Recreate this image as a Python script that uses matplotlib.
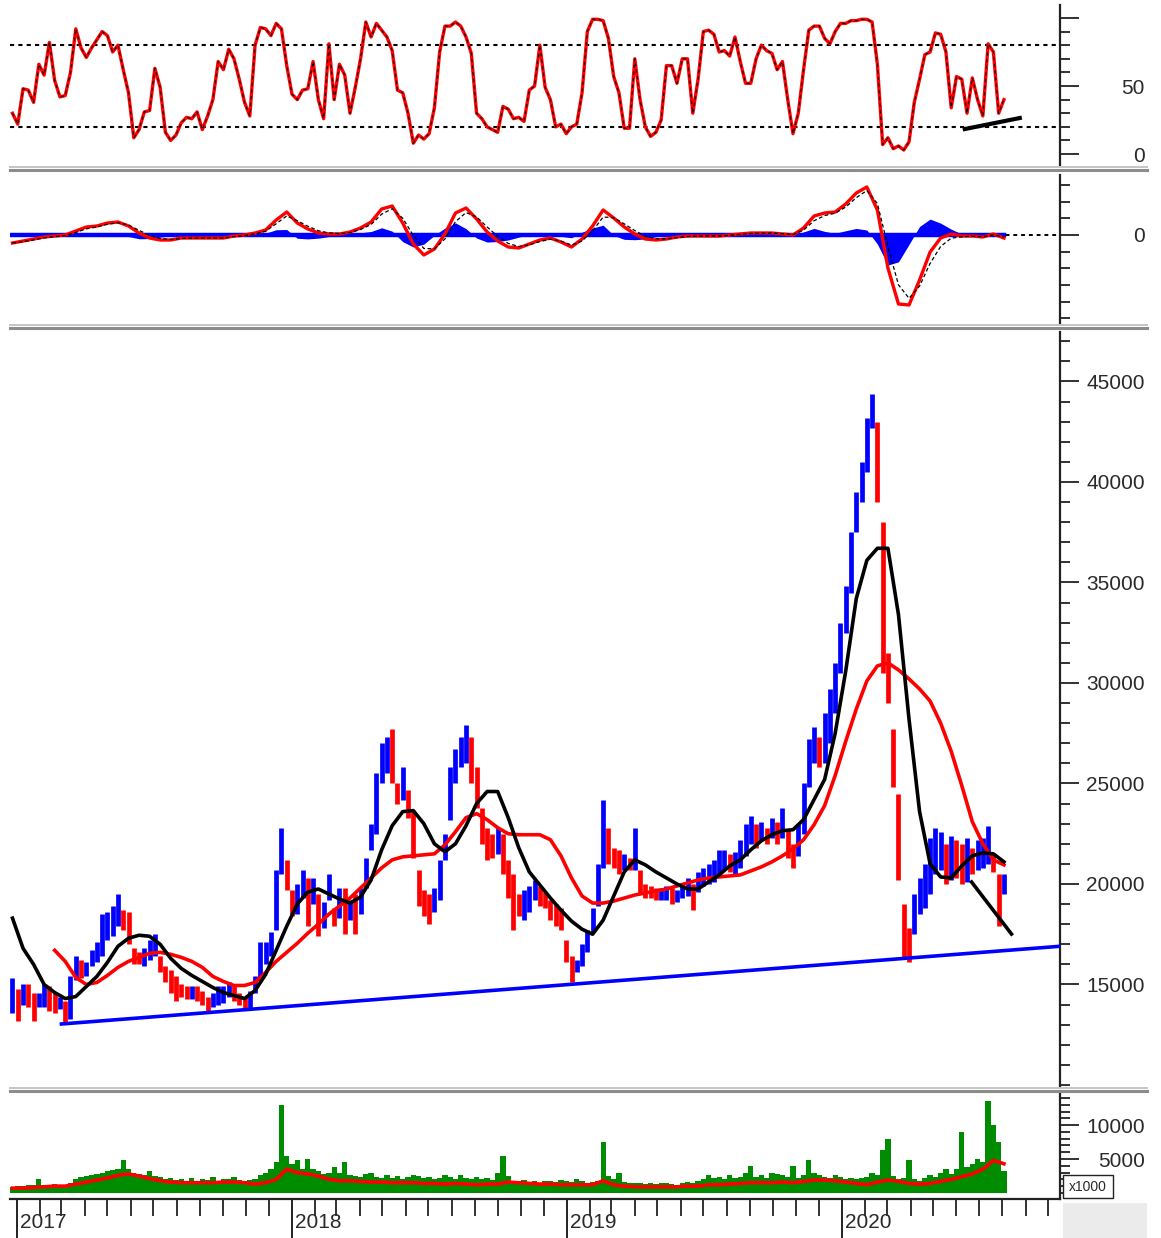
import numpy as np
import pandas as pd
import matplotlib
matplotlib.use('Agg')
import matplotlib.pyplot as plt
import matplotlib.dates as mdates
from matplotlib.lines import Line2D
from matplotlib.patches import Rectangle
from matplotlib.ticker import FixedLocator

plt.rcParams['font.family'] = ['Liberation Sans', 'DejaVu Sans']

# ---------------- data (weekly grid starting 2016-12-26) ----------------
week_start = '2016-12-26'
n_weeks = 189

price_hi = [15300, 14800, 15000, 15000, 14600, 14600, 15000, 14900, 14600, 14400,
            14200, 15400, 16400, 16200, 16100, 16700, 17100, 18500, 18600, 18900,
            19500, 18700, 18600, 16800, 16600, 16800, 17200, 17500, 16400, 15900,
            15700, 15400, 15000, 14900, 14900, 14900, 14700, 14400, 14600, 14900,
            14900, 15100, 14900, 14600, 14400, 14700, 15400, 17100, 17100, 17600,
            20700, 22800, 21200, 19700, 20000, 20700, 20300, 20300, 19500, 19100,
            20500, 18800, 19800, 19800, 19200, 19500, 19800, 21300, 23000, 25500,
            27000, 27300, 27700, 25000, 25800, 24700, 23700, 20700, 19700, 19500,
            19800, 21200, 22500, 25800, 26700, 27300, 27900, 27300, 25800, 23800,
            22800, 22500, 22800, 22500, 21200, 20500, 19500, 19700, 19900, 20200,
            19900, 19600, 19200, 19000, 18800, 17200, 16400, 16200, 17000, 17700,
            18800, 21000, 24200, 22800, 21800, 21700, 21500, 21300, 22800, 20700,
            20000, 19900, 19800, 19800, 19900, 19800, 19700, 20000, 20300, 20000,
            20600, 20800, 21000, 21200, 21700, 21700, 21500, 21600, 22200, 23000,
            23400, 23000, 23100, 22800, 23300, 23100, 23800, 22700, 22000, 23000,
            25000, 27200, 27800, 27300, 28500, 29700, 31000, 33000, 34800, 37500,
            39500, 41000, 43200, 44400, 43000, 38000, 31500, 27700, 24500, 19000,
            17800, 19500, 20300, 21000, 22300, 22800, 22600, 22000, 22400, 22200,
            22000, 22300, 21800, 22200, 22300, 22900, 21500, 20500, 20500]

price_lo = [13600, 13200, 14000, 13900, 13200, 13900, 13900, 13700, 13600, 13800,
            13100, 13300, 15200, 15300, 15400, 15900, 16100, 16400, 17200, 17400,
            17900, 17700, 17000, 16000, 16000, 15900, 16200, 16400, 15600, 15100,
            14600, 14200, 14400, 14300, 14300, 14200, 14000, 13700, 13900, 14000,
            14100, 14400, 14200, 14000, 13800, 13800, 14600, 15200, 16000, 16400,
            17700, 20500, 19700, 18400, 18500, 19300, 17900, 19000, 17400, 17800,
            19200, 17900, 18300, 17500, 18200, 17500, 18500, 19800, 21700, 22500,
            25000, 25500, 25000, 24000, 24200, 23300, 21300, 18900, 18400, 18000,
            18600, 19200, 21200, 23200, 25000, 25800, 26000, 25000, 23800, 22000,
            21200, 21300, 21500, 20500, 19300, 17700, 18400, 18200, 18600, 19200,
            18900, 18800, 18200, 17900, 17700, 16100, 15100, 15600, 15900, 16600,
            17600, 18900, 20800, 21000, 20800, 20500, 20700, 20700, 20700, 19500,
            19300, 19300, 19200, 19200, 19200, 19000, 19100, 19300, 19400, 18700,
            19600, 19900, 20000, 20100, 20500, 20700, 20600, 20500, 20800, 21400,
            22000, 21800, 22200, 22000, 22300, 22000, 22300, 21300, 20800, 21400,
            22500, 24800, 26000, 25800, 26000, 27000, 28500, 30500, 32500, 34500,
            37500, 39000, 40500, 42700, 39000, 30500, 29000, 24800, 20200, 16300,
            16100, 17500, 18500, 18800, 19500, 20500, 20700, 20000, 20200, 20300,
            20000, 20100, 20500, 20700, 20800, 21000, 20600, 17900, 19500]

rsi = [30, 22, 48, 47, 38, 66, 58, 82, 54, 42,
       43, 60, 92, 78, 71, 78, 84, 90, 87, 75,
       80, 62, 45, 12, 18, 31, 32, 63, 49, 16,
       10, 14, 23, 27, 26, 31, 18, 28, 40, 68,
       62, 77, 70, 55, 38, 28, 80, 93, 92, 87,
       96, 92, 65, 44, 40, 47, 48, 68, 40, 26,
       81, 40, 66, 58, 30, 49, 70, 97, 86, 96,
       91, 86, 76, 47, 45, 30, 8, 14, 11, 15,
       34, 75, 94, 94, 97, 94, 86, 74, 30, 26,
       20, 18, 16, 35, 33, 26, 27, 24, 47, 50,
       80, 49, 40, 20, 22, 15, 20, 22, 45, 90,
       99, 99, 98, 85, 57, 45, 19, 19, 70, 40,
       20, 13, 16, 25, 65, 65, 52, 70, 70, 30,
       55, 90, 91, 88, 75, 76, 72, 86, 68, 52,
       52, 70, 80, 76, 74, 62, 68, 40, 15, 30,
       62, 91, 94, 94, 85, 81, 90, 96, 96, 98,
       98, 99, 99, 97, 66, 7, 12, 4, 6, 3,
       9, 38, 55, 73, 75, 89, 88, 75, 34, 57,
       55, 30, 56, 40, 28, 81, 75, 30, 40]

volume = [900, 1000, 1000, 1100, 1200, 2000, 1100, 1200, 1300, 1200,
          1200, 1500, 2000, 2300, 2500, 2600, 2800, 3000, 3200, 3400,
          3600, 4800, 3500, 3000, 2800, 2600, 3200, 2500, 2300, 2000,
          2200, 1900, 2000, 1800, 2200, 1800, 2000, 1900, 2300, 1800,
          2000, 2100, 2300, 1900, 1800, 1900, 2000, 2600, 3000, 3500,
          4500, 13000, 5500, 4200, 4800, 3500, 5000, 3500, 3200, 2800,
          3000, 3800, 3000, 4500, 2600, 2500, 2400, 2800, 3000, 2400,
          2200, 2600, 2200, 2500, 2000, 2300, 2700, 2500, 2200, 2400,
          2000, 2200, 2700, 2300, 2000, 2600, 2200, 2000, 2400, 2000,
          2200, 1900, 3000, 5500, 2500, 1800, 1700, 1900, 1600, 1800,
          1500, 1800, 1700, 1600, 1900, 1700, 1600, 2000, 1800, 1500,
          1600, 1800, 7500, 2500, 2000, 3000, 1600, 1500, 1400, 1500,
          1300, 1400, 1300, 1500, 1400, 1300, 1200, 1400, 1600, 1500,
          1700, 2000, 2600, 2200, 2400, 2000, 2600, 2200, 2400, 3000,
          4000, 2400, 2600, 2200, 3000, 2800, 2600, 2400, 4000, 2200,
          2600, 4800, 3000, 2600, 2400, 2200, 2600, 2400, 2000, 2200,
          2000, 2200, 2400, 3000, 2600, 6400, 8000, 2500, 2000, 2200,
          4800, 2000, 1800, 2200, 2600, 2400, 3000, 3500, 2800, 3500,
          9000, 3800, 4200, 5000, 4500, 13500, 10000, 7500, 3300]

# ---------------- biweekly series (every second week) ----------------
ma_fast = [18300, 16800, 16000, 15000, 14600, 14300, 14400, 14900, 15400, 16100,
           16900, 17300, 17450, 17400, 17000, 16300, 15800, 15450, 15150, 14850,
           14600, 14450, 14300, 14700, 15500, 16700, 17900, 19000, 19600, 19750,
           19500, 19250, 19050, 19350, 20200, 21700, 22900, 23600, 23650, 23000,
           22000, 21600, 22000, 22900, 24000, 24600, 24600, 23300, 21800, 20600,
           19950, 19300, 18700, 18150, 17750, 17500, 18200, 19400, 20600, 21200,
           20950, 20600, 20300, 20000, 19750, 19750, 20100, 20450, 20900, 21200,
           21700, 22150, 22450, 22650, 22700, 23200, 24200, 25200, 27500, 30600,
           34200, 36100, 36700, 36700, 33400, 28200, 23600, 21000, 20350, 20300,
           20900, 21400, 21550, 21500, 21100]

ma_slow = [np.nan, np.nan, np.nan, np.nan, 16700, 16150, 15350, 15000, 15100, 15450,
           15850, 16150, 16350, 16550, 16600, 16500, 16350, 16150, 15850, 15400,
           15150, 14950, 14950, 15100, 15600, 16150, 16600, 17050, 17550, 18000,
           18500, 18900, 19300, 19800, 20300, 20800, 21200, 21350, 21400, 21450,
           21500, 21950, 22600, 23300, 23500, 23200, 22800, 22500, 22450, 22450,
           22450, 22200, 21400, 20300, 19400, 19050, 19050, 19150, 19300, 19450,
           19550, 19650, 19750, 19900, 20050, 20200, 20300, 20350, 20400, 20450,
           20650, 20850, 21100, 21400, 21750, 22200, 22950, 23900, 25400, 27100,
           28700, 30100, 30850, 31000, 30650, 30200, 29700, 29100, 28000, 26600,
           24900, 23100, 22000, 21200, 20950]

macd = [-480, -360, -240, -120, -60, 0, 240, 480, 540, 720,
        780, 540, 120, -180, -300, -300, -180, -180, -180, -180,
        -180, -60, 0, 120, 300, 900, 1380, 720, 360, 120,
        60, 60, 180, 420, 780, 1560, 1740, 720, -540, -1200,
        -840, 60, 1320, 1620, 960, 180, -360, -720, -780, -540,
        -300, -180, -420, -720, -240, 540, 1500, 1020, 480, 60,
        -240, -300, -240, -120, -60, -60, -60, -60, 0, 60,
        120, 120, 120, 60, 0, 420, 1140, 1320, 1380, 1860,
        2520, 2880, 1500, -1980, -4140, -4200, -2700, -1020, -180, 60,
        -60, -60, -120, 60, -180]

vol_ma = [700, 700, 800, 900, 1000, 1000, 1300, 1600, 1900, 2200,
          2600, 2800, 2500, 2100, 1800, 1600, 1500, 1500, 1500, 1500,
          1600, 1600, 1500, 1300, 1500, 2000, 3500, 3000, 2800, 2500,
          2000, 1800, 1800, 1700, 1600, 1600, 1500, 1500, 1500, 1400,
          1400, 1300, 1400, 1300, 1200, 1300, 1300, 1600, 1500, 1400,
          1300, 1300, 1200, 1200, 1200, 1200, 1800, 1200, 1000, 900,
          900, 900, 900, 900, 1000, 1000, 1200, 1200, 1300, 1400,
          1500, 1500, 1500, 1600, 1500, 1700, 1900, 1900, 1800, 1600,
          1400, 1200, 1600, 1900, 1700, 1400, 1300, 1400, 1700, 2000,
          2400, 2800, 3500, 4800, 4300]

# trend lines (two end points each)
support_dates = ['2017-03-01', '2020-10-16']
support_prices = [13035, 16900]
down_dates = ['2020-06-21', '2020-08-13']
down_prices = [20100, 17510]
rsi_tl_dates = ['2020-06-12', '2020-08-24']
rsi_tl_vals = [18.4, 26.5]

year_labels = ['2017', '2018', '2019', '2020']

# ---------------- figure ----------------
W, H = 1161, 1238
fig = plt.figure(figsize=(W / 100, H / 100), dpi=100)
fig.patch.set_facecolor('white')

dates = pd.date_range(week_start, periods=n_weeks, freq='7D')
xd = mdates.date2num(dates)
xd2 = xd[::2]
t2017 = mdates.date2num(pd.Timestamp('2017-01-01'))
t2020 = mdates.date2num(pd.Timestamp('2020-01-01'))
XL = (t2017 - 9.3, t2020 + 289.4)


def ax_at(x0, y0, x1, y1):
    ax = fig.add_axes([x0 / W, 1 - y1 / H, (x1 - x0) / W, (y1 - y0) / H])
    ax.set_xlim(*XL)
    ax.set_facecolor('none')
    for s in ['top', 'left', 'bottom']:
        ax.spines[s].set_visible(False)
    ax.spines['right'].set_linewidth(1.6)
    ax.spines['right'].set_color('#222222')
    ax.set_xticks([])
    return ax


def right_axis(ax, major, labels, minor):
    ax.yaxis.tick_right()
    ax.yaxis.set_major_locator(FixedLocator(major))
    ax.yaxis.set_minor_locator(FixedLocator(minor))
    ax.set_yticklabels(labels)
    ax.tick_params(axis='y', which='major', length=14, width=1.3, pad=47,
                   labelsize=15, labelcolor='#2a2a2a', color='#222222')
    ax.tick_params(axis='y', which='minor', length=7, width=1.3, color='#222222')
    for lab in ax.get_yticklabels():
        lab.set_horizontalalignment('right')


dotted = (0, (2.0, 2.0))

# RSI panel
ax_r = ax_at(10, 5, 1060, 165)
ax_r.set_ylim(-8, 109.5)
ax_r.axhline(80, color='black', ls=dotted, lw=1.5)
ax_r.axhline(20, color='black', ls=dotted, lw=1.5)
ax_r.plot(xd, rsi, color='#ff0000', lw=2.4, zorder=3)
ax_r.plot(xd, rsi, color='black', lw=0.8, ls=(0, (3, 3)), zorder=4)
ax_r.plot(mdates.date2num(pd.to_datetime(rsi_tl_dates)), rsi_tl_vals, color='black', lw=3, zorder=5)
right_axis(ax_r, [0, 50, 100], ['0', '50', ''], list(range(0, 101, 10)))

# MACD panel
ax_m = ax_at(10, 175, 1060, 323)
ax_m.set_ylim(-5280, 3600)
macd_s = pd.Series(macd, dtype=float)
signal = macd_s.ewm(span=2, adjust=False).mean()
hist = (macd_s - signal) * 1.4
ax_m.axhline(0, color='black', ls=dotted, lw=1.4, zorder=1)
ax_m.fill_between(xd2, 0, hist, color='#0000ff', lw=0, zorder=2)
ax_m.plot([xd[0], xd[-1]], [0, 0], color='#0000ff', lw=3.2, zorder=2)
ax_m.plot(xd2, macd, color='#ff0000', lw=2.4, zorder=3)
ax_m.plot(xd2, signal, color='black', lw=0.9, ls=(0, (3, 2)), zorder=4)
right_axis(ax_m, [0], ['0'], list(range(-5000, 3001, 1000)))

# Price panel
ax_p = ax_at(10, 332, 1060, 1087)
ax_p.set_ylim(9900, 47460)
hi = np.array(price_hi, dtype=float)
lo = np.array(price_lo, dtype=float)
mid = (hi + lo) / 2
up = np.concatenate([[True], mid[1:] >= mid[:-1]])
cols = np.where(up, '#0000ff', '#ff0000')
ax_p.vlines(xd, lo, hi, colors=cols, lw=3.4, zorder=2)
ax_p.plot(xd2, ma_slow, color='#ff0000', lw=2.6, zorder=3)
ax_p.plot(xd2, ma_fast, color='black', lw=2.6, zorder=4)
ax_p.plot(mdates.date2num(pd.to_datetime(support_dates)), support_prices, color='#0000ff', lw=2.6, zorder=5)
ax_p.plot(mdates.date2num(pd.to_datetime(down_dates)), down_prices, color='black', lw=2.6, zorder=5)
right_axis(ax_p, list(range(15000, 45001, 5000)),
           [str(v) for v in range(15000, 45001, 5000)],
           list(range(10000, 47001, 1000)))

# Volume panel
ax_v = ax_at(10, 1094, 1060, 1199)
ax_v.set_ylim(-900, 14600)
ax_v.bar(xd, volume, width=7.0, color='#008c00', lw=0, zorder=2)
ax_v.plot(xd2, vol_ma, color='#ff0000', lw=2.6, zorder=3)
right_axis(ax_v, [5000, 10000], ['5000', '10000'], list(range(0, 14001, 1000)))

# Time axis
ax_t = fig.add_axes([10 / W, 0, (1060 - 10) / W, (H - 1199) / H])
ax_t.set_xlim(*XL)
ax_t.set_ylim(0, 1)
ax_t.set_facecolor('none')
for s in ['left', 'right', 'bottom']:
    ax_t.spines[s].set_visible(False)
ax_t.spines['top'].set_linewidth(1.6)
ax_t.spines['top'].set_color('#222222')
ax_t.set_yticks([])
ax_t.xaxis.tick_top()
ax_t.xaxis.set_major_locator(mdates.YearLocator())
ax_t.xaxis.set_minor_locator(mdates.MonthLocator())
ax_t.xaxis.set_major_formatter(plt.NullFormatter())
ax_t.tick_params(axis='x', which='major', direction='in', length=40, width=1.4, color='#222222')
ax_t.tick_params(axis='x', which='minor', direction='in', length=12, width=1.3, color='#222222')
for lab in year_labels:
    t = mdates.date2num(pd.Timestamp(f'{lab}-01-01'))
    ax_t.text(t + 4, 0.40, lab, fontsize=15, color='#2a2a2a', ha='left', va='center')

# separators
def sep(y):
    fig.add_artist(Line2D([10 / W, 1147 / W], [1 - (y - 1.5) / H] * 2, color='#c4c4c4', lw=1.4))
    fig.add_artist(Line2D([10 / W, 1147 / W], [1 - (y + 1.5) / H] * 2, color='#8c8c8c', lw=2.2))

for yy in (168.5, 326.5, 1089.5):
    sep(yy)

# x1000 box and bottom-right grey box
fig.add_artist(Rectangle((1063 / W, 1 - 1198 / H), 50 / W, 23 / H, transform=fig.transFigure,
                         facecolor='white', edgecolor='#222222', lw=1.0))
fig.text(1088 / W, 1 - 1187 / H, 'x1000', fontsize=10, ha='center', va='center', color='#2a2a2a')
fig.add_artist(Rectangle((1063 / W, 0), 84 / W, 35 / H, transform=fig.transFigure,
                         facecolor='#ebebeb', edgecolor='none'))

fig.savefig('out.png', dpi=100, facecolor='white')
